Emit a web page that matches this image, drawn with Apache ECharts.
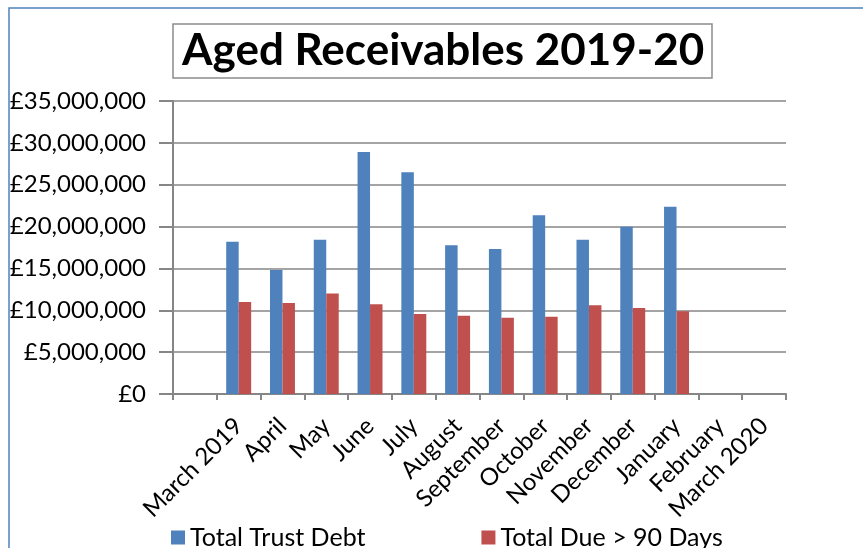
<!DOCTYPE html>
<html>
<head>
<meta charset="utf-8">
<script src="https://cdn.jsdelivr.net/npm/echarts@6/dist/echarts.min.js"></script>
<style>
  html, body { margin: 0; padding: 0; background: #fff; }
  #chart { width: 863px; height: 548px; }
</style>
</head>
<body>
<div id="chart"></div>
<script>
var months = ['', 'March 2019', 'April', 'May', 'June', 'July', 'August', 'September',
  'October', 'November', 'December', 'January', 'February', 'March 2020'];
var trustDebt = [null, 18190000, 14810000, 18430000, 28900000, 26480000, 17760000, 17320000,
  21340000, 18430000, 19980000, 22380000, null, null];
var dueOver90 = [null, 10990000, 10870000, 12020000, 10710000, 9560000, 9360000, 9120000,
  9240000, 10590000, 10270000, 9870000, null, null];

var font = 'Lato';
var myChart = echarts.init(document.getElementById('chart'));

function pounds(v) {
  return '£' + v.toLocaleString('en-GB');
}

var option = {
  animation: false,
  textStyle: { fontFamily: font },
  graphic: [{
    type: 'rect',
    shape: { x: 9, y: 8, width: 900, height: 600 },
    style: { fill: 'none', stroke: '#4F81BD', lineWidth: 1.5 }
  }],
  title: {
    text: 'Aged Receivables 2019-20',
    left: 173,
    top: 24,
    padding: [5, 8, 5, 9],
    borderColor: '#8c8c8c',
    borderWidth: 1.5,
    textStyle: { fontFamily: font, fontSize: 44, fontWeight: 'bold', color: '#000' }
  },
  legend: {
    bottom: -7,
    left: 166,
    itemGap: 116,
    itemWidth: 14,
    itemHeight: 14,
    icon: 'rect',
    textStyle: { fontFamily: font, fontSize: 25, color: '#000' },
    data: ['Total Trust Debt', 'Total Due > 90 Days']
  },
  grid: { left: 173, right: 77, top: 101, bottom: 154 },
  xAxis: {
    type: 'category',
    data: months,
    axisLine: { lineStyle: { color: '#868686', width: 2 } },
    axisTick: { show: true, length: 6, lineStyle: { color: '#868686', width: 2 } },
    axisLabel: { rotate: 45, interval: 0, margin: 28, fontSize: 24, color: '#000', fontFamily: font }
  },
  yAxis: {
    type: 'value',
    min: 0,
    max: 35000000,
    interval: 5000000,
    axisLine: { show: true, lineStyle: { color: '#868686', width: 2 } },
    axisTick: { show: true, length: 14, lineStyle: { color: '#868686', width: 2 } },
    splitLine: { lineStyle: { color: '#868686', width: 1.5 } },
    axisLabel: { fontSize: 24, color: '#000', margin: 27, fontFamily: font, formatter: pounds }
  },
  series: [
    {
      name: 'Total Trust Debt',
      type: 'bar',
      barGap: '0%',
      barCategoryGap: '43%',
      itemStyle: { color: '#4F81BD' },
      data: trustDebt
    },
    {
      name: 'Total Due > 90 Days',
      type: 'bar',
      itemStyle: { color: '#C0504D' },
      data: dueOver90
    }
  ]
};

myChart.setOption(option);
</script>
</body>
</html>
